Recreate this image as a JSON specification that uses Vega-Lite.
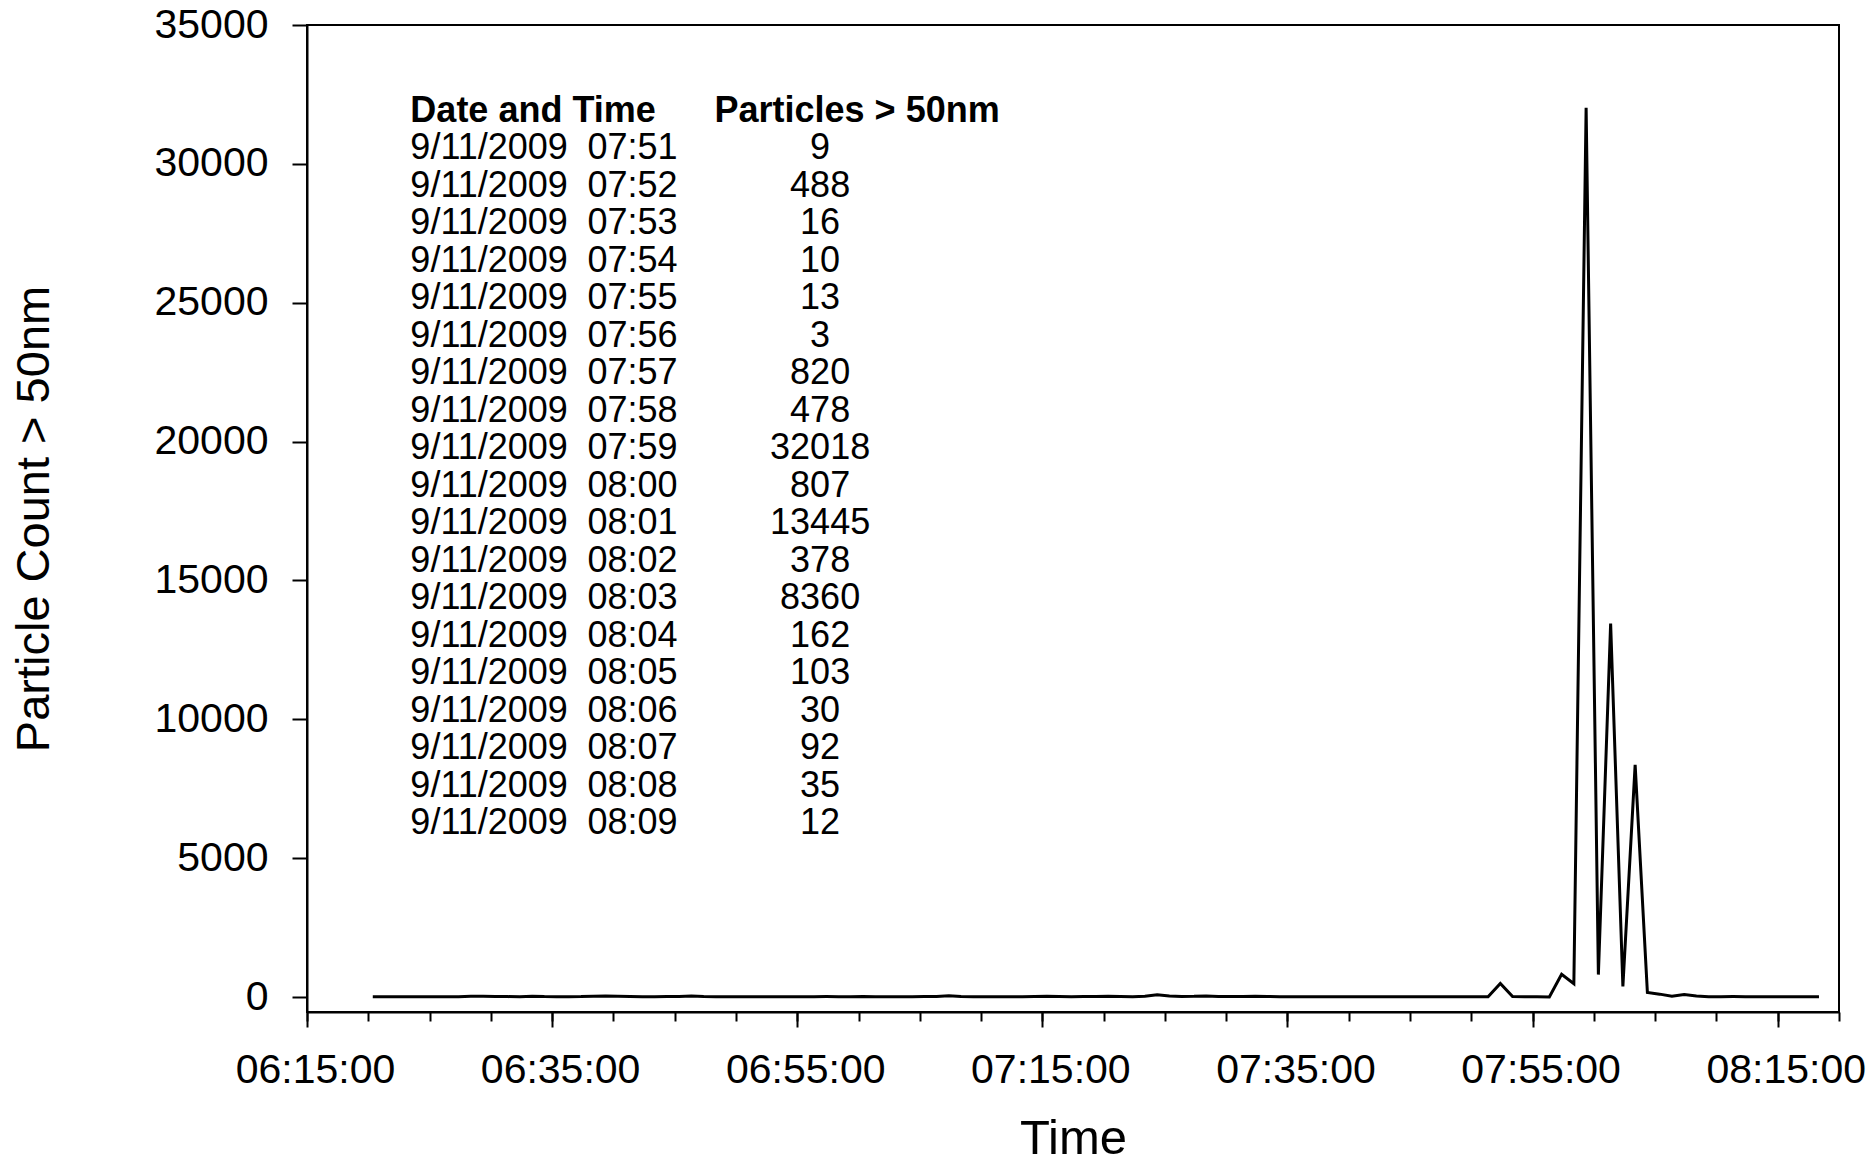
{
  "$schema": "https://vega.github.io/schema/vega-lite/v6.json",
  "width": 1532,
  "height": 987,
  "autosize": {"type": "none"},
  "padding": {"left": 307, "top": 25, "right": 37, "bottom": 154},
  "background": "white",
  "config": {
    "font": "Liberation Sans",
    "view": {"stroke": "black", "strokeWidth": 2},
    "axis": {"domainColor": "black", "domainWidth": 2, "tickColor": "black", "tickWidth": 2, "labelColor": "black", "titleColor": "black", "labelFont": "Liberation Sans", "titleFont": "Liberation Sans", "titleFontWeight": "normal", "grid": false}
  },
  "datasets": {
    "series": [
      {"t":"2009-09-11T06:20:22","n":12},{"t":"2009-09-11T06:21:22","n":10},{"t":"2009-09-11T06:22:22","n":11},{"t":"2009-09-11T06:23:22","n":9},{"t":"2009-09-11T06:24:22","n":13},{"t":"2009-09-11T06:25:22","n":10},{"t":"2009-09-11T06:26:22","n":12},{"t":"2009-09-11T06:27:22","n":11},{"t":"2009-09-11T06:28:22","n":25},{"t":"2009-09-11T06:29:22","n":30},
      {"t":"2009-09-11T06:30:22","n":22},{"t":"2009-09-11T06:31:22","n":14},{"t":"2009-09-11T06:32:22","n":12},{"t":"2009-09-11T06:33:22","n":28},{"t":"2009-09-11T06:34:22","n":15},{"t":"2009-09-11T06:35:22","n":12},{"t":"2009-09-11T06:36:22","n":10},{"t":"2009-09-11T06:37:22","n":14},{"t":"2009-09-11T06:38:22","n":30},{"t":"2009-09-11T06:39:22","n":35},
      {"t":"2009-09-11T06:40:22","n":30},{"t":"2009-09-11T06:41:22","n":18},{"t":"2009-09-11T06:42:22","n":12},{"t":"2009-09-11T06:43:22","n":11},{"t":"2009-09-11T06:44:22","n":14},{"t":"2009-09-11T06:45:22","n":20},{"t":"2009-09-11T06:46:22","n":32},{"t":"2009-09-11T06:47:22","n":15},{"t":"2009-09-11T06:48:22","n":12},{"t":"2009-09-11T06:49:22","n":10},
      {"t":"2009-09-11T06:50:22","n":11},{"t":"2009-09-11T06:51:22","n":13},{"t":"2009-09-11T06:52:22","n":10},{"t":"2009-09-11T06:53:22","n":9},{"t":"2009-09-11T06:54:22","n":12},{"t":"2009-09-11T06:55:22","n":11},{"t":"2009-09-11T06:56:22","n":10},{"t":"2009-09-11T06:57:22","n":14},{"t":"2009-09-11T06:58:22","n":12},{"t":"2009-09-11T06:59:22","n":11},
      {"t":"2009-09-11T07:00:22","n":22},{"t":"2009-09-11T07:01:22","n":13},{"t":"2009-09-11T07:02:22","n":10},{"t":"2009-09-11T07:03:22","n":12},{"t":"2009-09-11T07:04:22","n":11},{"t":"2009-09-11T07:05:22","n":14},{"t":"2009-09-11T07:06:22","n":18},{"t":"2009-09-11T07:07:22","n":45},{"t":"2009-09-11T07:08:22","n":16},{"t":"2009-09-11T07:09:22","n":12},
      {"t":"2009-09-11T07:10:22","n":10},{"t":"2009-09-11T07:11:22","n":11},{"t":"2009-09-11T07:12:22","n":13},{"t":"2009-09-11T07:13:22","n":12},{"t":"2009-09-11T07:14:22","n":15},{"t":"2009-09-11T07:15:22","n":25},{"t":"2009-09-11T07:16:22","n":14},{"t":"2009-09-11T07:17:22","n":12},{"t":"2009-09-11T07:18:22","n":14},{"t":"2009-09-11T07:19:22","n":20},
      {"t":"2009-09-11T07:20:22","n":24},{"t":"2009-09-11T07:21:22","n":15},{"t":"2009-09-11T07:22:22","n":12},{"t":"2009-09-11T07:23:22","n":25},{"t":"2009-09-11T07:24:22","n":85},{"t":"2009-09-11T07:25:22","n":35},{"t":"2009-09-11T07:26:22","n":20},{"t":"2009-09-11T07:27:22","n":25},{"t":"2009-09-11T07:28:22","n":40},{"t":"2009-09-11T07:29:22","n":22},
      {"t":"2009-09-11T07:30:22","n":15},{"t":"2009-09-11T07:31:22","n":20},{"t":"2009-09-11T07:32:22","n":30},{"t":"2009-09-11T07:33:22","n":18},{"t":"2009-09-11T07:34:22","n":12},{"t":"2009-09-11T07:35:22","n":10},{"t":"2009-09-11T07:36:22","n":11},{"t":"2009-09-11T07:37:22","n":12},{"t":"2009-09-11T07:38:22","n":10},{"t":"2009-09-11T07:39:22","n":9},
      {"t":"2009-09-11T07:40:22","n":11},{"t":"2009-09-11T07:41:22","n":10},{"t":"2009-09-11T07:42:22","n":12},{"t":"2009-09-11T07:43:22","n":10},{"t":"2009-09-11T07:44:22","n":11},{"t":"2009-09-11T07:45:22","n":9},{"t":"2009-09-11T07:46:22","n":10},{"t":"2009-09-11T07:47:22","n":12},{"t":"2009-09-11T07:48:22","n":11},{"t":"2009-09-11T07:49:22","n":10},
      {"t":"2009-09-11T07:50:22","n":11},{"t":"2009-09-11T07:51:22","n":9},{"t":"2009-09-11T07:52:22","n":488},{"t":"2009-09-11T07:53:22","n":16},{"t":"2009-09-11T07:54:22","n":10},{"t":"2009-09-11T07:55:22","n":13},{"t":"2009-09-11T07:56:22","n":3},{"t":"2009-09-11T07:57:22","n":820},{"t":"2009-09-11T07:58:22","n":478},{"t":"2009-09-11T07:59:22","n":32018},
      {"t":"2009-09-11T08:00:22","n":807},{"t":"2009-09-11T08:01:22","n":13445},{"t":"2009-09-11T08:02:22","n":378},{"t":"2009-09-11T08:03:22","n":8360},{"t":"2009-09-11T08:04:22","n":162},{"t":"2009-09-11T08:05:22","n":103},{"t":"2009-09-11T08:06:22","n":30},{"t":"2009-09-11T08:07:22","n":92},{"t":"2009-09-11T08:08:22","n":35},{"t":"2009-09-11T08:09:22","n":12},
      {"t":"2009-09-11T08:10:22","n":10},{"t":"2009-09-11T08:11:22","n":14},{"t":"2009-09-11T08:12:22","n":11},{"t":"2009-09-11T08:13:22","n":9},{"t":"2009-09-11T08:14:22","n":10},{"t":"2009-09-11T08:15:22","n":12},{"t":"2009-09-11T08:16:22","n":10},{"t":"2009-09-11T08:17:22","n":9},{"t":"2009-09-11T08:18:22","n":11}
    ],
    "table": [
      {"d":"9/11/2009","tm":"07:51","c":"9"},{"d":"9/11/2009","tm":"07:52","c":"488"},{"d":"9/11/2009","tm":"07:53","c":"16"},{"d":"9/11/2009","tm":"07:54","c":"10"},{"d":"9/11/2009","tm":"07:55","c":"13"},{"d":"9/11/2009","tm":"07:56","c":"3"},{"d":"9/11/2009","tm":"07:57","c":"820"},{"d":"9/11/2009","tm":"07:58","c":"478"},{"d":"9/11/2009","tm":"07:59","c":"32018"},{"d":"9/11/2009","tm":"08:00","c":"807"},
      {"d":"9/11/2009","tm":"08:01","c":"13445"},{"d":"9/11/2009","tm":"08:02","c":"378"},{"d":"9/11/2009","tm":"08:03","c":"8360"},{"d":"9/11/2009","tm":"08:04","c":"162"},{"d":"9/11/2009","tm":"08:05","c":"103"},{"d":"9/11/2009","tm":"08:06","c":"30"},{"d":"9/11/2009","tm":"08:07","c":"92"},{"d":"9/11/2009","tm":"08:08","c":"35"},{"d":"9/11/2009","tm":"08:09","c":"12"}
    ],
    "header": [{"tm":"hdr","a":"Date and Time","b":"Particles > 50nm"}]
  },
  "layer": [
    {
      "data": {"name": "series"},
      "mark": {"type": "line", "color": "black", "strokeWidth": 3},
      "encoding": {
        "x": {
          "field": "t", "type": "temporal",
          "scale": {"domain": [{"year":2009,"month":9,"date":11,"hours":6,"minutes":15}, {"year":2009,"month":9,"date":11,"hours":8,"minutes":20}]},
          "axis": {
            "orient": "bottom",
            "values": [
              {"year":2009,"month":9,"date":11,"hours":6,"minutes":15},{"year":2009,"month":9,"date":11,"hours":6,"minutes":35},{"year":2009,"month":9,"date":11,"hours":6,"minutes":55},{"year":2009,"month":9,"date":11,"hours":7,"minutes":15},{"year":2009,"month":9,"date":11,"hours":7,"minutes":35},{"year":2009,"month":9,"date":11,"hours":7,"minutes":55},{"year":2009,"month":9,"date":11,"hours":8,"minutes":15}
            ],
            "format": "%H:%M:%S",
            "tickSize": 15,
            "labelPadding": 55,
            "labelOffset": 8,
            "labelBaseline": "alphabetic",
            "labelFontSize": 41,
            "labelOverlap": false,
            "labelFlush": false,
            "title": "Time",
            "titleFontSize": 49,
            "titleY": 141,
            "titleBaseline": "alphabetic"
          }
        },
        "y": {
          "field": "n", "type": "quantitative",
          "scale": {"domain": [-540, 35000], "nice": false, "zero": false},
          "axis": {
            "values": [0, 5000, 10000, 15000, 20000, 25000, 30000, 35000],
            "format": "d",
            "tickSize": 15,
            "labelPadding": 24,
            "labelFontSize": 41,
            "title": "Particle Count > 50nm",
            "titleFontSize": 47,
            "titleX": -259,
            "titleBaseline": "alphabetic"
          }
        }
      }
    },
    {
      "data": {"name": "series"},
      "mark": {"type": "line", "opacity": 0},
      "encoding": {
        "x": {
          "field": "t", "type": "temporal",
          "scale": {"domain": [{"year":2009,"month":9,"date":11,"hours":6,"minutes":15}, {"year":2009,"month":9,"date":11,"hours":8,"minutes":20}]},
          "axis": {
            "orient": "bottom",
            "values": [
              {"year":2009,"month":9,"date":11,"hours":6,"minutes":15},{"year":2009,"month":9,"date":11,"hours":6,"minutes":20},{"year":2009,"month":9,"date":11,"hours":6,"minutes":25},{"year":2009,"month":9,"date":11,"hours":6,"minutes":30},{"year":2009,"month":9,"date":11,"hours":6,"minutes":35},{"year":2009,"month":9,"date":11,"hours":6,"minutes":40},{"year":2009,"month":9,"date":11,"hours":6,"minutes":45},{"year":2009,"month":9,"date":11,"hours":6,"minutes":50},{"year":2009,"month":9,"date":11,"hours":6,"minutes":55},
              {"year":2009,"month":9,"date":11,"hours":7,"minutes":0},{"year":2009,"month":9,"date":11,"hours":7,"minutes":5},{"year":2009,"month":9,"date":11,"hours":7,"minutes":10},{"year":2009,"month":9,"date":11,"hours":7,"minutes":15},{"year":2009,"month":9,"date":11,"hours":7,"minutes":20},{"year":2009,"month":9,"date":11,"hours":7,"minutes":25},{"year":2009,"month":9,"date":11,"hours":7,"minutes":30},{"year":2009,"month":9,"date":11,"hours":7,"minutes":35},{"year":2009,"month":9,"date":11,"hours":7,"minutes":40},{"year":2009,"month":9,"date":11,"hours":7,"minutes":45},{"year":2009,"month":9,"date":11,"hours":7,"minutes":50},{"year":2009,"month":9,"date":11,"hours":7,"minutes":55},
              {"year":2009,"month":9,"date":11,"hours":8,"minutes":0},{"year":2009,"month":9,"date":11,"hours":8,"minutes":5},{"year":2009,"month":9,"date":11,"hours":8,"minutes":10},{"year":2009,"month":9,"date":11,"hours":8,"minutes":15},{"year":2009,"month":9,"date":11,"hours":8,"minutes":20}
            ],
            "tickSize": 9,
            "labels": false,
            "domain": false,
            "title": null
          }
        },
        "y": {
          "field": "n", "type": "quantitative",
          "scale": {"domain": [-540, 35000], "nice": false, "zero": false},
          "axis": null
        }
      }
    },
    {
      "layer": [
        {
          "data": {"name": "header"},
          "mark": {"type": "text", "align": "left", "baseline": "alphabetic", "fontSize": 36, "fontWeight": "bold", "color": "black"},
          "encoding": {
            "x": {"datum": {"year":2009,"month":9,"date":11,"hours":6,"minutes":23,"seconds":26}, "type": "temporal", "axis": null},
            "y": {"field": "tm", "type": "ordinal", "axis": null},
            "text": {"field": "a"}
          }
        },
        {
          "data": {"name": "header"},
          "mark": {"type": "text", "align": "left", "baseline": "alphabetic", "fontSize": 36, "fontWeight": "bold", "color": "black"},
          "encoding": {
            "x": {"datum": {"year":2009,"month":9,"date":11,"hours":6,"minutes":48,"seconds":15}, "type": "temporal", "axis": null},
            "y": {"field": "tm", "type": "ordinal", "axis": null},
            "text": {"field": "b"}
          }
        },
        {
          "data": {"name": "table"},
          "mark": {"type": "text", "align": "left", "baseline": "alphabetic", "fontSize": 36, "color": "black"},
          "encoding": {
            "x": {"datum": {"year":2009,"month":9,"date":11,"hours":6,"minutes":23,"seconds":26}, "type": "temporal", "axis": null},
            "y": {"field": "tm", "type": "ordinal", "axis": null},
            "text": {"field": "d"}
          }
        },
        {
          "data": {"name": "table"},
          "mark": {"type": "text", "align": "left", "baseline": "alphabetic", "fontSize": 36, "color": "black"},
          "encoding": {
            "x": {"datum": {"year":2009,"month":9,"date":11,"hours":6,"minutes":37,"seconds":53}, "type": "temporal", "axis": null},
            "y": {"field": "tm", "type": "ordinal", "axis": null},
            "text": {"field": "tm"}
          }
        },
        {
          "data": {"name": "table"},
          "mark": {"type": "text", "align": "center", "baseline": "alphabetic", "fontSize": 36, "color": "black"},
          "encoding": {
            "x": {"datum": {"year":2009,"month":9,"date":11,"hours":6,"minutes":56,"seconds":52}, "type": "temporal", "axis": null},
            "y": {
              "field": "tm", "type": "ordinal", "axis": null,
              "scale": {"type": "point", "domain": ["hdr","07:51","07:52","07:53","07:54","07:55","07:56","07:57","07:58","07:59","08:00","08:01","08:02","08:03","08:04","08:05","08:06","08:07","08:08","08:09"], "range": [97, 809], "padding": 0}
            },
            "text": {"field": "c"}
          }
        }
      ]
    }
  ],
  "resolve": {"scale": {"y": "independent"}, "axis": {"x": "independent"}}
}
